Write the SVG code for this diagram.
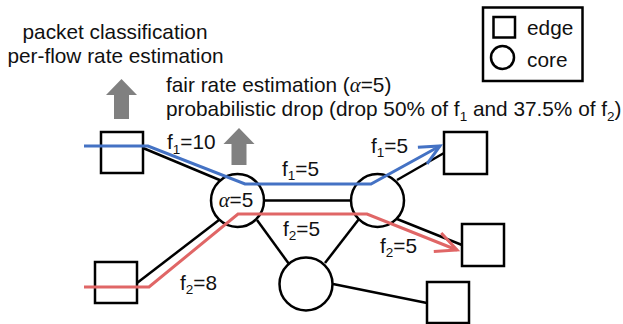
<svg xmlns="http://www.w3.org/2000/svg" width="623" height="324" viewBox="0 0 623 324">
<style>
text{font-family:"Liberation Sans",Arial,sans-serif;font-size:20.8px;fill:#111}
.sub{font-size:13.5px}
.alpha{font-family:"Liberation Serif","Times New Roman",serif;font-style:italic}
.box{fill:#fff;stroke:#000;stroke-width:2.5}
.node{fill:#fff;stroke:#000;stroke-width:2.5}
.link{stroke:#000;stroke-width:2.5;fill:none}
.blue{stroke:#4472C4;stroke-width:3;fill:none}
.red{stroke:#E06666;stroke-width:3;fill:none}
.garrow{fill:#808080}
</style>
<defs>
<marker id="mBlue" markerUnits="userSpaceOnUse" markerWidth="30" markerHeight="30" refX="0" refY="0" viewBox="-25 -15 30 30" orient="auto" overflow="visible">
<path d="M-20,-9.5 L0,0 L-20,9.5" fill="none" stroke="#4472C4" stroke-width="3"/>
</marker>
<marker id="mRed" markerUnits="userSpaceOnUse" markerWidth="30" markerHeight="30" refX="0" refY="0" viewBox="-25 -15 30 30" orient="auto" overflow="visible">
<path d="M-21,-10 L0,0 L-21,10" fill="none" stroke="#E06666" stroke-width="3"/>
</marker>
</defs>
<rect width="623" height="324" fill="#fff"/>

<g id="annotations">
<text x="115" y="39" text-anchor="middle">packet classification</text>
<text x="115.5" y="63" text-anchor="middle">per-flow rate estimation</text>
<text x="166" y="92">fair rate estimation (<tspan class="alpha">α</tspan>=5)</text>
<text x="166" y="116">probabilistic drop (drop 50% of f<tspan class="sub" dy="4.5">1</tspan><tspan dy="-4.5"> and 37.5% of f</tspan><tspan class="sub" dy="4.5">2</tspan><tspan dy="-4.5">)</tspan></text>
<polygon class="garrow" points="121.5,79 137,95 129,95 129,119 114,119 114,95 106,95"/>
<polygon class="garrow" points="239,128 254.5,144 246.5,144 246.5,165 231.5,165 231.5,144 223.5,144"/>
</g>

<g id="legend">
<rect x="483" y="7.5" width="99.5" height="73.5" fill="#fff" stroke="#000" stroke-width="2.5"/>
<rect x="493.5" y="17" width="21.5" height="20.5" class="box"/>
<circle cx="502.5" cy="57.5" r="11.5" class="node"/>
<text x="527" y="35">edge</text>
<text x="527" y="66.5">core</text>
</g>

<g id="connectors">
<line class="link" x1="143" y1="148" x2="222" y2="181"/>
<line class="link" x1="137" y1="283" x2="219" y2="220"/>
<line class="link" x1="264" y1="200.5" x2="351" y2="200.5"/>
<line class="link" x1="257" y1="220" x2="289" y2="264"/>
<line class="link" x1="359" y1="219" x2="325" y2="263"/>
<line class="link" x1="397" y1="180" x2="444" y2="153"/>
<line class="link" x1="397" y1="219" x2="462" y2="245"/>
<line class="link" x1="333" y1="284" x2="427" y2="303"/>
</g>

<g id="edge1"><rect class="box" x="101" y="132" width="42" height="41"/></g>
<g id="edge2"><rect class="box" x="95" y="262" width="42" height="41"/></g>
<g id="edge3"><rect class="box" x="444" y="132" width="43" height="42"/></g>
<g id="edge4"><rect class="box" x="462" y="224" width="42" height="42"/></g>
<g id="edge5"><rect class="box" x="427" y="282" width="42" height="41"/></g>
<g id="core1"><circle class="node" cx="237.5" cy="200.5" r="26.5"/><text x="236" y="207" text-anchor="middle"><tspan class="alpha">α</tspan>=5</text></g>
<g id="core2"><circle class="node" cx="377.5" cy="200.5" r="26.5"/></g>
<g id="core3"><circle class="node" cx="306" cy="284" r="26.5"/></g>

<g id="flows">
<polyline class="blue" points="84,146 148,146 245,184 371,184 440,146" marker-end="url(#mBlue)"/>
<polyline class="red" points="84,287 149,287 238,214 367,214 457,250" marker-end="url(#mRed)"/>
</g>

<g id="labels">
<text x="167" y="149">f<tspan class="sub" dy="4.5">1</tspan><tspan dy="-4.5">=10</tspan></text>
<text x="282" y="175.5">f<tspan class="sub" dy="4.5">1</tspan><tspan dy="-4.5">=5</tspan></text>
<text x="283" y="235.5">f<tspan class="sub" dy="4.5">2</tspan><tspan dy="-4.5">=5</tspan></text>
<text x="371" y="152.5">f<tspan class="sub" dy="4.5">1</tspan><tspan dy="-4.5">=5</tspan></text>
<text x="380" y="252.5">f<tspan class="sub" dy="4.5">2</tspan><tspan dy="-4.5">=5</tspan></text>
<text x="180" y="289.5">f<tspan class="sub" dy="4.5">2</tspan><tspan dy="-4.5">=8</tspan></text>
</g>
</svg>
